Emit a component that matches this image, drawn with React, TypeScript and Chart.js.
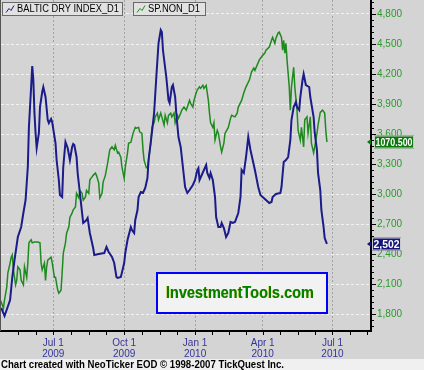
import React, { useEffect, useRef } from 'react';
import { Chart, registerables } from 'chart.js';

Chart.register(...registerables);

const W = 424;
const H = 370;
const FONT = 'Liberation Sans, Arial, sans-serif';

// Trading-day index, 0 = Jul 1 2009
const blueDays = [-47,-44,-39,-37,-35,-32,-29,-27,-25,-23,-22,-20,-19,-18,-17,-16,-15,-13,-12,-10,-9,-7,-5,-4,-2,-1,2,3,5,6,8,9,11,13,15,17,18,19,21,22,24,26,27,30,31,33,36,37,41,46,48,50,53,55,57,58,61,64,65,67,70,71,73,74,76,77,79,81,83,85,86,89,91,93,95,97,98,99,102,104,105,107,108,110,111,113,115,117,119,121,123,126,128,130,131,132,134,136,138,139,141,142,144,146,147,149,151,152,154,156,158,160,162,164,167,169,170,172,174,176,178,180,182,185,187,189,192,195,197,198,201,205,206,208,210,212,214,215,217,219,220,222,223,225,226,228,231,232,235,236,238,239,241,242,244,245,247];
const blueValues = [1860,1780,1940,2170,2340,2570,2670,2810,2940,3270,3670,4070,4280,4140,3810,3610,3460,3610,3870,4020,4070,3970,3740,3710,3750,3720,3510,3340,3140,2990,2970,3270,3520,3460,3340,3470,3500,3490,3370,3210,3010,2810,2710,2740,2760,2610,2460,2390,2400,2410,2470,2420,2370,2310,2170,2160,2170,2310,2410,2540,2670,2640,2610,2740,2840,2970,3020,3010,3060,3160,3340,3610,3810,4170,4510,4640,4620,4440,4170,3940,3910,4070,4090,3970,3810,3570,3470,3270,3070,3010,3040,3090,3140,3240,3260,3140,3190,3240,3290,3210,3160,3210,3140,2970,2770,2670,2670,2710,2660,2570,2610,2720,2710,2720,2810,2970,3240,3210,3370,3570,3440,3340,3240,3070,2990,2970,2940,2910,2920,2970,3000,3010,3070,3320,3340,3370,3540,3740,3870,3920,3870,3840,3970,4140,4200,4090,4070,3970,3770,3610,3440,3210,3040,2840,2670,2560,2502];

const greenDays = [-48,-47,-45,-44,-42,-41,-39,-38,-37,-36,-34,-33,-32,-30,-29,-27,-26,-24,-23,-22,-20,-19,-17,-14,-12,-11,-10,-8,-7,-6,-5,-2,-1,1,2,4,5,7,8,9,11,12,14,15,17,18,20,21,23,24,26,27,29,30,32,33,35,36,38,39,41,42,44,45,47,49,51,53,55,56,58,59,61,62,64,65,67,68,70,72,74,75,77,78,80,81,82,84,85,86,88,89,91,92,94,95,97,98,100,101,103,104,106,107,109,110,112,113,115,116,118,120,121,123,124,126,127,129,130,132,133,135,136,138,139,140,141,142,144,145,146,148,149,151,152,154,155,158,160,161,164,166,167,170,172,174,177,179,181,182,184,186,189,191,192,195,197,198,200,201,203,204,206,207,208,209,210,211,213,214,215,217,218,220,221,223,224,226,227,229,230,232,233,235,236,238,239,241,243,245,246,247];
const greenValues = [860,857,849,860,877,896,909,917,920,900,880,886,904,900,886,880,904,890,909,936,940,936,937,937,936,909,900,909,886,904,913,917,910,890,890,873,869,873,896,922,936,949,957,970,976,980,984,1002,996,1006,1002,993,997,1006,1002,1020,1024,1026,1029,1026,1016,996,1002,1017,1026,1042,1060,1064,1060,1066,1056,1057,1050,1037,1022,1037,1056,1069,1070,1082,1090,1089,1090,1084,1082,1060,1046,1036,1036,1046,1069,1090,1096,1104,1109,1100,1109,1104,1093,1106,1096,1106,1109,1104,1109,1096,1106,1102,1109,1113,1117,1113,1117,1126,1122,1117,1126,1136,1140,1144,1142,1146,1142,1146,1136,1126,1109,1096,1090,1096,1073,1086,1082,1064,1057,1069,1082,1090,1102,1106,1104,1109,1117,1126,1136,1144,1153,1164,1169,1166,1173,1180,1186,1189,1193,1197,1206,1210,1202,1209,1216,1217,1210,1193,1206,1189,1202,1180,1144,1113,1144,1170,1144,1113,1086,1073,1090,1064,1100,1104,1082,1104,1069,1056,1064,1082,1093,1110,1113,1109,1086,1070.5];

const xTickDays = [0, 64, 128, 189, 252];
const xTickLabels = [['Jul 1', '2009'], ['Oct 1', '2009'], ['Jan 1', '2010'], ['Apr 1', '2010'], ['Jul 1', '2010']];
const yTickValues = [1800, 2100, 2400, 2700, 3000, 3300, 3600, 3900, 4200, 4500, 4800];
const seriesNames = ['BALTIC DRY INDEX_D1', 'SP.NON_D1'];
const watermarkText = 'InvestmentTools.com';
const footerText = 'Chart created with NeoTicker EOD \u00A9 1998-2007 TickQuest Inc.';

const BLUE = '#1b1b8a';
const GREEN = '#1f8a1f';
const BG = '#d4d4d4';

const decorPlugin = {
  id: 'decor',
  beforeDraw(chart: any) {
    const { ctx } = chart;
    ctx.save();
    ctx.fillStyle = BG;
    ctx.fillRect(0, 0, W, H);
    ctx.fillStyle = '#f0f0f0';
    ctx.fillRect(0, 359, W, H - 359);
    ctx.restore();
  },
  afterDatasetsDraw(chart: any) {
    const { ctx } = chart;
    ctx.save();
    // watermark
    ctx.fillStyle = '#f2f2f2';
    ctx.fillRect(156, 272, 172, 42);
    ctx.strokeStyle = '#0000ff';
    ctx.lineWidth = 2;
    ctx.strokeRect(157, 273, 170, 40);
    ctx.font = `bold 17px ${FONT}`;
    ctx.textBaseline = 'middle';
    ctx.textAlign = 'left';
    ctx.fillStyle = '#b8b820';
    ctx.fillText(watermarkText, 165.5, 293.5, 148);
    ctx.fillStyle = '#008000';
    ctx.fillText(watermarkText, 166, 293, 148);
    ctx.restore();
  },
  afterDraw(chart: any) {
    const { ctx, chartArea: ca, scales } = chart;
    const xs = scales.x;
    const ys = scales.y;
    const y2 = scales.y2;
    ctx.save();
    // left frame line
    ctx.strokeStyle = '#555';
    ctx.lineWidth = 1;
    ctx.beginPath();
    ctx.moveTo(0.5, 0);
    ctx.lineTo(0.5, ca.bottom);
    ctx.stroke();

    // y tick marks (major + minor)
    ctx.strokeStyle = '#000';
    for (let v = 1680; v <= 4920; v += 60) {
      const py = Math.round(ys.getPixelForValue(v)) + 0.5;
      const len = v % 300 === 0 ? 5 : 3;
      ctx.beginPath();
      ctx.moveTo(ca.right, py);
      ctx.lineTo(ca.right + len, py);
      ctx.stroke();
    }
    // x tick marks
    const xt: number[] = [];
    for (let k = 0; k < xTickDays.length; k++) {
      xt.push(xTickDays[k]);
      if (k < xTickDays.length - 1) {
        const a = xTickDays[k], b = xTickDays[k + 1];
        for (let j = 1; j < 4; j++) xt.push(a + ((b - a) * j) / 4);
      }
    }
    const step0 = (xTickDays[1] - xTickDays[0]) / 4;
    const stepN = (xTickDays[xTickDays.length - 1] - xTickDays[xTickDays.length - 2]) / 4;
    for (let j = 1; j < 4; j++) {
      xt.push(xTickDays[0] - step0 * j);
      xt.push(xTickDays[xTickDays.length - 1] + stepN * j);
    }
    for (const d of xt) {
      const px = Math.round(xs.getPixelForValue(d)) + 0.5;
      if (px < ca.left || px > ca.right) continue;
      ctx.beginPath();
      ctx.moveTo(px, ca.bottom);
      ctx.lineTo(px, ca.bottom + 4);
      ctx.stroke();
    }

    // legend boxes
    const boxes = [
      { x: 2, w: 120, color: BLUE, name: seriesNames[0], tw: 102 },
      { x: 133, w: 72, color: GREEN, name: seriesNames[1], tw: 52 },
    ];
    for (const b of boxes) {
      ctx.fillStyle = '#e2e2e2';
      ctx.fillRect(b.x, 2, b.w, 13);
      ctx.strokeStyle = '#6a6a6a';
      ctx.lineWidth = 1;
      ctx.strokeRect(b.x + 0.5, 2.5, b.w, 13);
      ctx.strokeStyle = b.color;
      ctx.beginPath();
      ctx.moveTo(b.x + 4, 12.5);
      ctx.lineTo(b.x + 7, 8.5);
      ctx.lineTo(b.x + 9, 10.5);
      ctx.lineTo(b.x + 12, 5.5);
      ctx.stroke();
      ctx.fillStyle = '#000';
      ctx.font = `10px ${FONT}`;
      ctx.textBaseline = 'middle';
      ctx.textAlign = 'left';
      ctx.fillText(b.name, b.x + 15, 9.5, b.tw);
    }

    // value tags
    const lastBlue = blueValues[blueValues.length - 1];
    const lastGreen = greenValues[greenValues.length - 1];
    const tags = [
      { py: Math.round(y2.getPixelForValue(lastGreen)), text: lastGreen.toFixed(3), bg: '#0b780b', x: 374, w: 40 },
      { py: Math.round(ys.getPixelForValue(lastBlue)), text: lastBlue.toLocaleString('en-US'), bg: '#16167a', x: 372, w: 29 },
    ];
    for (const t of tags) {
      ctx.fillStyle = t.bg;
      ctx.beginPath();
      ctx.moveTo(367, t.py);
      ctx.lineTo(371, t.py - 3);
      ctx.lineTo(371, t.py + 3);
      ctx.closePath();
      ctx.fill();
      ctx.fillRect(t.x, t.py - 6.5, t.w, 13);
      ctx.strokeStyle = '#c8c8c8';
      ctx.lineWidth = 1;
      ctx.strokeRect(t.x + 0.5, t.py - 6, t.w - 1, 12);
      ctx.fillStyle = '#fff';
      ctx.font = `bold 11px ${FONT}`;
      ctx.textAlign = 'center';
      ctx.textBaseline = 'middle';
      ctx.fillText(t.text, t.x + t.w / 2, t.py + 0.5, t.w - 3);
    }

    // footer
    ctx.fillStyle = '#000';
    ctx.font = `bold 10px ${FONT}`;
    ctx.textAlign = 'left';
    ctx.textBaseline = 'middle';
    ctx.fillText(footerText, 1, 365, 283);
    ctx.restore();
  },
};

export default function App() {
  const ref = useRef<HTMLCanvasElement>(null);
  useEffect(() => {
    const canvas = ref.current;
    if (!canvas) return;
    const chart = new Chart(canvas, {
      type: 'line',
      data: {
        datasets: [
          {
            label: seriesNames[0],
            data: blueDays.map((d, i) => ({ x: d, y: blueValues[i] })),
            borderColor: BLUE,
            borderWidth: 2,
            pointRadius: 0,
            tension: 0,
            yAxisID: 'y',
          },
          {
            label: seriesNames[1],
            data: greenDays.map((d, i) => ({ x: d, y: greenValues[i] })),
            borderColor: GREEN,
            borderWidth: 1.5,
            pointRadius: 0,
            tension: 0,
            yAxisID: 'y2',
          },
        ],
      },
      options: {
        responsive: false,
        devicePixelRatio: 1,
        animation: false,
        layout: { padding: { left: 1, top: 0, right: 0, bottom: 0 } },
        plugins: { legend: { display: false }, tooltip: { enabled: false } },
        scales: {
          x: {
            type: 'linear',
            min: -47.2,
            max: 286.8,
            afterBuildTicks: (s: any) => {
              s.ticks = xTickDays.map((v) => ({ value: v }));
            },
            afterFit: (s: any) => {
              s.height = 39;
              s.paddingLeft = 0;
              s.paddingRight = 0;
            },
            ticks: {
              autoSkip: false,
              maxRotation: 0,
              padding: 7,
              color: '#34349a',
              font: { family: FONT, size: 10, lineHeight: 1.1 },
              callback: (v: any) => {
                const k = xTickDays.indexOf(Number(v));
                return k >= 0 ? xTickLabels[k] : '';
              },
            },
            grid: { color: '#a2a2a2', drawTicks: false, lineWidth: 1 },
            border: { display: true, color: '#000', width: 2, dash: [2, 2] },
          },
          y: {
            type: 'linear',
            position: 'right',
            min: 1630,
            max: 4940,
            afterBuildTicks: (s: any) => {
              s.ticks = yTickValues.map((v) => ({ value: v }));
            },
            afterFit: (s: any) => {
              s.width = 53;
              s.paddingTop = 0;
              s.paddingBottom = 0;
            },
            ticks: {
              padding: 6,
              color: '#2a9a2a',
              font: { family: FONT, size: 10 },
              callback: (v: any) => Number(v).toLocaleString('en-US'),
            },
            grid: { color: '#f2f2f2', drawTicks: false, lineWidth: 1 },
            border: { display: true, color: '#000', width: 2, dash: [3, 2] },
          },
          y2: {
            type: 'linear',
            display: false,
            min: 818.5,
            max: 1259.8,
          },
        },
      } as any,
      plugins: [decorPlugin],
    });
    return () => chart.destroy();
  }, []);
  return (
    <div style={{ position: 'absolute', left: 0, top: 0, width: W, height: H }}>
      <canvas ref={ref} width={W} height={H} style={{ display: 'block', width: W, height: H }} />
    </div>
  );
}
